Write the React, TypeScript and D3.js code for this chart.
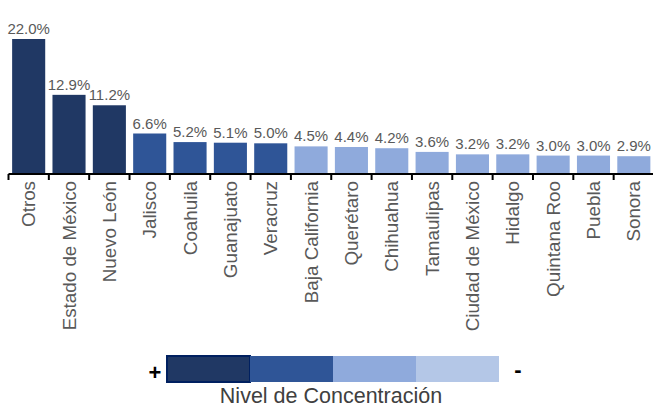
import React from "react";
import * as d3 from "d3";

const categories = ["Otros","Estado de México","Nuevo León","Jalisco","Coahuila","Guanajuato","Veracruz","Baja California","Querétaro","Chihuahua","Tamaulipas","Ciudad de México","Hidalgo","Quintana Roo","Puebla","Sonora"];
const values = [22.0,12.9,11.2,6.6,5.2,5.1,5.0,4.5,4.4,4.2,3.6,3.2,3.2,3.0,3.0,2.9];
const levels = [0,0,0,1,1,1,1,2,2,2,2,2,2,2,2,2];
const levelColors = ["#203864","#2F5597","#8FAADC","#B4C7E7"];
const legendTitle = "Nivel de Concentración";

const W = 653, H = 407;
const FONT = "'Liberation Sans', Arial, sans-serif";

export default function App() {
  const x = d3.scaleBand<string>().domain(categories).range([8.5, 654]).paddingInner(0.18).paddingOuter(0.09);
  const axisY = 174;
  const y = d3.scaleLinear().domain([0, 22]).range([axisY, 39]);
  const step = x.step();
  const x0 = 8.5;
  const ticks = d3.range(categories.length + 1).map(i => x0 + i * step);

  const legX = d3.scaleBand<number>().domain([0,1,2,3]).range([167, 499]);

  return (
    <svg width={W} height={H} style={{ position: "absolute", left: 0, top: 0, background: "#fff" }} fontFamily={FONT}>
      {categories.map((c, i) => (
        <rect key={c} x={x(c)} y={y(values[i])} width={x.bandwidth()} height={axisY - y(values[i])} fill={levelColors[levels[i]]} />
      ))}
      {categories.map((c, i) => (
        <text key={"v" + c} x={(x(c) as number) + x.bandwidth() / 2} y={y(values[i]) - 5} textAnchor="middle" fontSize={15} fill="#595959">
          {values[i].toFixed(1) + "%"}
        </text>
      ))}
      <line x1={x0} x2={654} y1={axisY} y2={axisY} stroke="#000" strokeWidth={2} />
      {ticks.map((t, i) => (
        <line key={"t" + i} x1={t} x2={t} y1={axisY} y2={axisY + 6} stroke="#000" strokeWidth={2} />
      ))}
      {categories.map((c) => {
        const cx = (x(c) as number) + x.bandwidth() / 2 + 6.5;
        return (
          <text key={"c" + c} transform={`translate(${cx},${axisY + 7}) rotate(-90)`} textAnchor="end" fontSize={18.8} fill="#595959">
            {c}
          </text>
        );
      })}
      {levelColors.map((col, i) => (
        <rect key={"l" + i} x={legX(i)} y={356} width={legX.bandwidth()} height={26} fill={col}
          stroke={i === 0 ? "#002060" : "none"} strokeWidth={i === 0 ? 2 : 0} />
      ))}
      <text x={155} y={380} textAnchor="middle" fontSize={22} fontWeight="bold" fill="#000">+</text>
      <text x={518} y={377} textAnchor="middle" fontSize={22} fontWeight="bold" fill="#000">-</text>
      <text x={331} y={403} textAnchor="middle" fontSize={21.5} fill="#404040">{legendTitle}</text>
    </svg>
  );
}
